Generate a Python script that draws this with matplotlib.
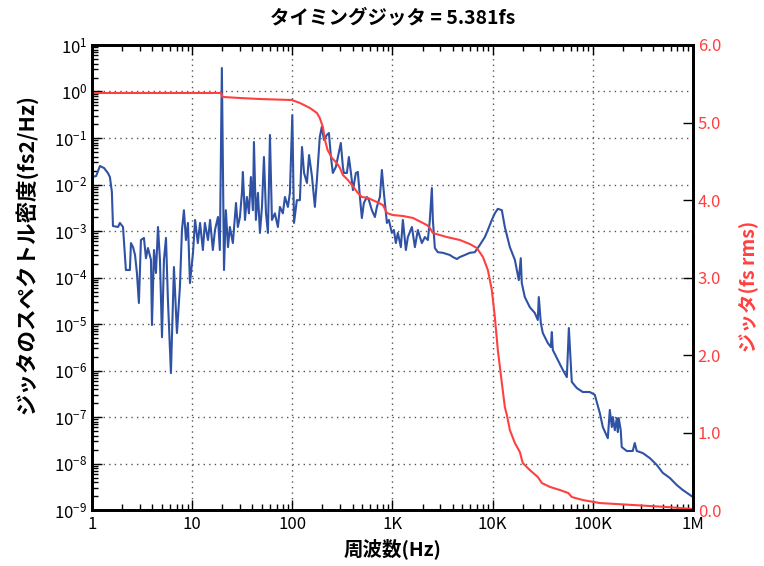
import matplotlib
matplotlib.use("Agg")
import matplotlib.pyplot as plt
from matplotlib.ticker import FixedLocator, LogLocator, NullFormatter

plt.rcParams['font.family'] = ['Noto Sans CJK JP', 'DejaVu Sans']

# スペクトル密度 (fs2/Hz)
freq_psd = [1.00, 1.10, 1.20, 1.32, 1.44, 1.51, 1.58, 1.62, 1.82, 1.90, 2.04, 2.09, 2.18, 2.39,
            2.45, 2.57, 2.69, 2.81, 2.94, 3.08, 3.30, 3.46, 3.62, 3.88, 3.97, 4.16, 4.35, 4.56,
            4.77, 5.00, 5.23, 5.48, 5.73, 6.14, 6.58, 7.05, 7.55, 7.91, 8.28, 8.67, 9.08, 9.51,
            10.2, 10.7, 11.4, 12.0, 12.8, 13.4, 14.4, 15.1, 16.1, 16.9, 18.1, 18.9, 19.8, 20.8,
            21.7, 22.8, 23.8, 25.5, 27.4, 28.6, 30.0, 31.4, 32.1, 33.7, 35.2, 36.9, 38.6, 40.4,
            41.4, 43.3, 45.4, 47.5, 49.8, 52.1, 54.6, 57.1, 59.8, 62.6, 67.0, 71.8, 75.2, 80.5,
            84.4, 90.4, 94.6, 100, 104, 111, 119, 125, 131, 140, 147, 157, 168, 176, 188, 197,
            207, 221, 232, 243, 254, 272, 285, 305, 320, 327, 351, 367, 385, 403, 431, 451, 473,
            495, 518, 555, 582, 623, 668, 699, 749, 784, 821, 880, 921, 986, 1033, 1081, 1132,
            1213, 1270, 1361, 1425, 1563, 1675, 1792, 1965, 2105, 2256, 2362, 2473, 2531, 2650,
            2838, 3184, 3741, 4009, 4395, 4710, 5284, 5920, 6640, 7450, 8360, 8960, 9820, 10520,
            11270, 12360, 13240, 14860, 16670, 18250, 19100, 19550, 20950, 23500, 26360, 28250,
            28910, 30270, 31700, 35560, 38100, 39000, 39900, 44770, 50230, 55080, 57680, 61700,
            69200, 79400, 93300, 104700, 117500, 125900, 141200, 147900, 154900, 158500, 166000,
            173800, 177800, 181600, 190100, 194500, 218300, 250600, 262400, 274800, 315500,
            370700, 435500, 500000, 587500, 688700, 790700, 1000000]
psd = [0.0145, 0.0152, 0.025, 0.0226, 0.0177, 0.0145, 0.0069, 0.00128, 0.00122, 0.00149, 0.00122,
       5.5e-4, 1.45e-4, 1.45e-4, 5.5e-4, 4.5e-4, 3.05e-4, 1.25e-4, 2.83e-5, 6.4e-4, 7.1e-4,
       2.6e-4, 4.3e-4, 2.4e-4, 9.5e-6, 3.9e-4, 1.25e-4, 1.22e-3, 2.4e-4, 5.2e-6, 2.4e-4, 7.1e-4,
       3.3e-5, 8.8e-7, 1.68e-4, 6.4e-6, 6.3e-5, 1.05e-3, 2.8e-3, 6.4e-4, 1.49e-3, 7.6e-5,
       3.4e-4, 1.73e-3, 5.5e-4, 1.49e-3, 3.9e-4, 1.49e-3, 6.4e-4, 1.73e-3, 3.9e-4, 1.05e-3,
       2.0e-3, 3.9e-4, 3.2, 1.45e-4, 2.8e-3, 4.5e-4, 1.22e-3, 5.5e-4, 4.0e-3, 1.22e-3, 2.0e-3,
       6.6e-3, 0.0186, 1.73e-3, 5.4e-3, 2.4e-3, 0.0145, 2.8e-3, 0.082, 1.73e-3, 6.6e-3, 9.1e-4,
       3.3e-3, 0.039, 2.4e-3, 9.1e-4, 0.116, 1.73e-3, 2.4e-3, 1.22e-3, 3.3e-3, 2.4e-3, 5.4e-3,
       3.3e-3, 6.6e-3, 0.31, 1.49e-3, 4.6e-3, 4.6e-3, 0.064, 0.0177, 0.0108, 0.043, 0.0152,
       3.3e-3, 0.0125, 0.105, 0.173, 0.091, 0.116, 0.128, 0.039, 0.0177, 0.0238, 0.039, 0.078,
       0.0238, 0.0177, 0.0177, 0.039, 0.0177, 7.6e-3, 0.0177, 0.0186, 5.4e-3, 1.9e-3, 4.0e-3,
       5.4e-3, 4.6e-3, 2.8e-3, 2.0e-3, 3.3e-3, 5.4e-3, 0.0205, 6.6e-3, 1.49e-3, 1.73e-3, 9.1e-4,
       1.05e-3, 5.5e-4, 9.1e-4, 4.5e-4, 1.73e-3, 3.9e-4, 7.4e-4, 1.22e-3, 4.5e-4, 1.05e-3,
       5.5e-4, 7.4e-4, 6.4e-4, 1.73e-3, 8.4e-3, 1.73e-3, 4.3e-4, 3.5e-4, 3.4e-4, 3.05e-4,
       2.76e-4, 2.5e-4, 2.76e-4, 3.05e-4, 3.4e-4, 3.5e-4, 5.0e-4, 7.4e-4, 1.05e-3, 1.73e-3,
       2.4e-3, 3.0e-3, 2.8e-3, 1.22e-3, 4.5e-4, 2.4e-4, 8.8e-5, 2.6e-4, 7.6e-5, 3.8e-5, 2.3e-5,
       1.73e-5, 1.22e-5, 3.8e-5, 1.05e-5, 6.4e-6, 3.9e-6, 3.2e-6, 6.7e-6, 2.76e-6, 1.68e-6,
       1.03e-6, 7.2e-7, 8.2e-6, 5.7e-7, 4.2e-7, 3.45e-7, 3.45e-7, 3.0e-7, 1.22e-7, 6.1e-8,
       3.5e-8, 1.42e-7, 6.1e-8, 1.0e-7, 5.2e-8, 9.5e-8, 4.75e-8, 9.5e-8, 5.2e-8, 2.26e-8,
       1.86e-8, 1.86e-8, 2.76e-8, 1.86e-8, 1.68e-8, 1.31e-8, 9.3e-9, 6.3e-9, 4.9e-9, 3.45e-9,
       2.7e-9, 1.9e-9]

# 積分ジッタ (fs rms)
freq_jit = [1, 19.5, 20.0, 30, 47.5, 99, 119, 150, 176, 188, 202, 212, 225, 249, 278, 299, 320,
            359, 394, 443, 495, 569, 699, 803, 880, 1008, 1270, 1604, 2206, 2362, 2531, 3470,
            4710, 5920, 6950, 8000, 8960, 9820, 10520, 11270, 12360, 13240, 13870, 14860, 16670,
            18700, 20000, 23500, 28250, 31000, 37500, 47000, 57000, 61700, 79400, 117500, 250600,
            545000, 1000000]
jitter = [5.381, 5.381, 5.33, 5.316, 5.303, 5.29, 5.252, 5.187, 5.123, 5.058, 4.942, 4.774,
          4.645, 4.542, 4.477, 4.413, 4.323, 4.258, 4.194, 4.103, 4.039, 4.026, 3.974, 3.935,
          3.832, 3.806, 3.794, 3.768, 3.677, 3.639, 3.574, 3.523, 3.484, 3.432, 3.381, 3.265,
          3.097, 2.839, 2.490, 2.065, 1.639, 1.329, 1.226, 1.032, 0.865, 0.748, 0.606, 0.516,
          0.426, 0.348, 0.297, 0.258, 0.219, 0.168, 0.129, 0.090, 0.065, 0.039, 0.013]

xticks = [1, 10, 100, 1e3, 1e4, 1e5, 1e6]
xticklabels = ['1', '10', '100', '1K', '10K', '100K', '1M']
rticks = [0, 1, 2, 3, 4, 5, 6]

blue = '#2f52a4'
red = '#ff4040'

fig = plt.figure(figsize=(7.64, 5.66), dpi=100)
ax = fig.add_axes([0.1204, 0.0989, 0.7866, 0.8216])
ax.plot(freq_psd, psd, color=blue, linewidth=1.5)
ax.set_xscale('log')
ax.set_yscale('log')
ax.set_xlim(1, 1e6)
ax.set_ylim(1e-9, 1e1)
ax.xaxis.set_major_locator(FixedLocator(xticks))
ax.set_xticklabels(xticklabels)
ax.xaxis.set_minor_locator(LogLocator(base=10, subs=range(2, 10), numticks=20))
ax.xaxis.set_minor_formatter(NullFormatter())
ax.yaxis.set_major_locator(LogLocator(base=10, numticks=20))
ax.yaxis.set_minor_locator(LogLocator(base=10, subs=range(2, 10), numticks=20))
ax.yaxis.set_minor_formatter(NullFormatter())
ax.grid(True, which='major', color='#555555', linestyle=(0, (1, 3)), linewidth=1)
ax.tick_params(which='both', direction='in', top=True, bottom=True, left=True, right=False,
               labelsize=12)
ax.tick_params(which='major', length=7, width=1)
ax.tick_params(which='minor', length=4, width=1)
ax.tick_params(axis='x', pad=4)
for s in ax.spines.values():
    s.set_linewidth(2)
ax.set_xlabel('周波数(Hz)', fontsize=14, fontweight='bold', labelpad=4)
ax.set_ylabel('ジッタのスペクトル密度(fs2/Hz)', fontsize=15.5, fontweight='bold')
ax.yaxis.set_label_coords(-0.09, 0.55)
ax.set_title('タイミングジッタ = 5.381fs', fontsize=14, fontweight='bold', pad=16)

ax2 = ax.twinx()
ax2.plot(freq_jit, jitter, color=red, linewidth=1.5)
ax2.set_ylim(0, 6)
ax2.set_yticks(rticks)
ax2.set_yticklabels([f'{v:.1f}' for v in rticks])
ax2.tick_params(axis='y', direction='in', colors=red, labelsize=12, length=7, width=1)
ax2.tick_params(axis='y', color='black')
ax2.set_ylabel('ジッタ(fs rms)', fontsize=14, fontweight='bold', color=red)
ax2.yaxis.set_label_coords(1.075, 0.48)
for s in ax2.spines.values():
    s.set_linewidth(2)

fig.savefig('out.png', dpi=100)
